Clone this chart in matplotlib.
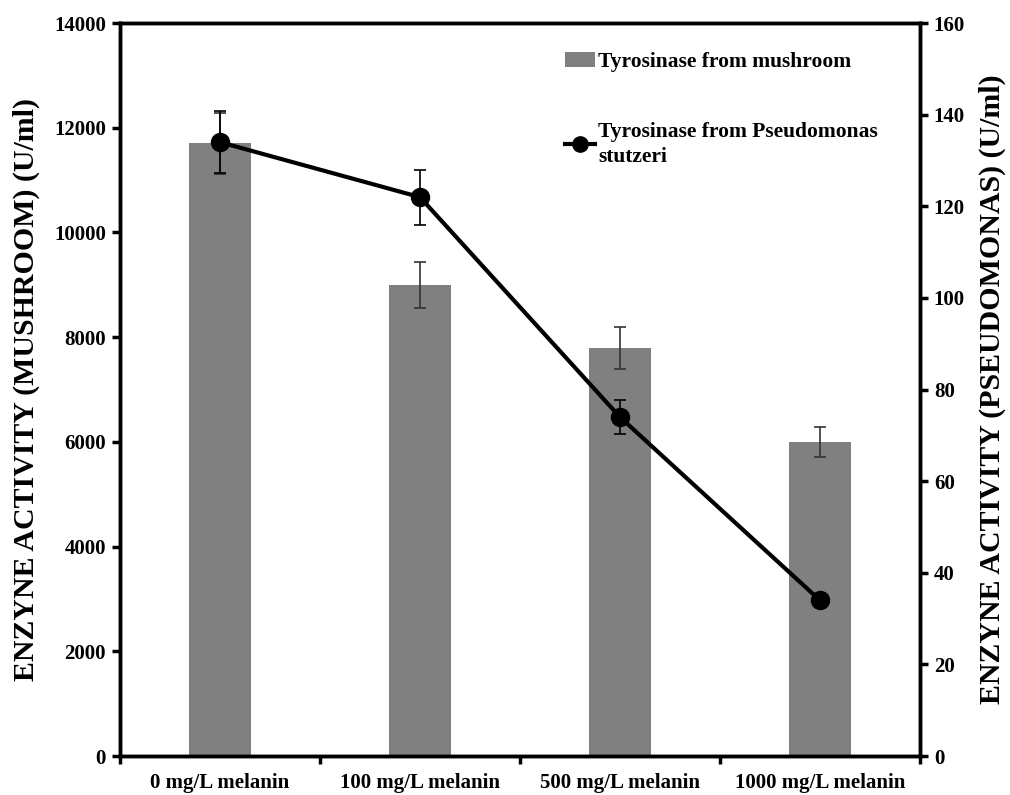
import matplotlib
matplotlib.use("Agg")
import matplotlib.pyplot as plt
from matplotlib.lines import Line2D
import numpy as np

categories = ["0 mg/L melanin", "100 mg/L melanin", "500 mg/L melanin", "1000 mg/L melanin"]
mushroom = [11700, 9000, 7800, 6000]
mushroom_err = [580, 440, 400, 290]
pseudomonas = [134, 122, 74, 34]
pseudomonas_err = [6.8, 6.0, 3.7, 1.0]

plt.rcParams["font.family"] = ["Liberation Serif", "DejaVu Serif"]
plt.rcParams["font.weight"] = "bold"

fig = plt.figure(figsize=(10.1, 7.95), dpi=100)
ax = fig.add_axes([0.1188, 0.049, 0.792, 0.922])
ax2 = ax.twinx()

x = np.arange(len(categories)) + 0.5
bars = ax.bar(x, mushroom, width=0.31, color="#808080",
              label="Tyrosinase from mushroom", zorder=1)
ax.errorbar(x, mushroom, yerr=mushroom_err, fmt="none", ecolor="#333333",
            elinewidth=1.2, capsize=4, capthick=1.2, zorder=2)

ax2.errorbar(x, pseudomonas, yerr=pseudomonas_err, color="black",
             lw=3, marker="o", ms=13, ecolor="black", elinewidth=1.2,
             capsize=4, capthick=1.2)
line_handle = Line2D([], [], color="black", lw=3, marker="o", ms=11,
                     label="Tyrosinase from Pseudomonas\nstutzeri")

ax.set_xlim(0, 4)
ax.set_ylim(0, 14000)
ax2.set_ylim(0, 160)
ax.set_yticks(np.arange(0, 14001, 2000))
ax2.set_yticks(np.arange(0, 161, 20))
ax.set_xticks([0, 1, 2, 3, 4])
ax.set_xticklabels([])
ax.set_xticks(x, minor=True)
ax.set_xticklabels(categories, minor=True)
ax.tick_params(axis="x", which="minor", length=0, pad=12, labelsize=15)
ax.tick_params(axis="x", which="major", direction="out", length=6, width=2.5)

for a in (ax, ax2):
    for s in ("left", "right", "bottom", "top"):
        a.spines[s].set_linewidth(2.5)
ax.tick_params(axis="y", direction="out", length=6, width=2.5, labelsize=15, pad=4)
ax2.tick_params(axis="y", direction="out", length=6, width=2.5, labelsize=15, pad=4)

ax.set_ylabel("ENZYNE ACTIVITY (MUSHROOM) (U/ml)", fontsize=21.5, fontweight="bold", labelpad=10)
ax2.set_ylabel("ENZYNE ACTIVITY (PSEUDOMONAS) (U/ml)", fontsize=21.5, fontweight="bold", labelpad=10)

handles = [bars, line_handle]
labels = [h.get_label() for h in handles]
leg = ax2.legend(handles, labels, loc="upper left", bbox_to_anchor=(0.545, 0.972),
                 frameon=False, labelspacing=2.3, handlelength=1.4,
                 handletextpad=0.15, borderaxespad=0,
                 prop={"weight": "bold", "size": 15.5, "family": "Liberation Serif"})
for t in leg.get_texts():
    t.set_linespacing(1.35)

fig.savefig("out.png", dpi=100)
